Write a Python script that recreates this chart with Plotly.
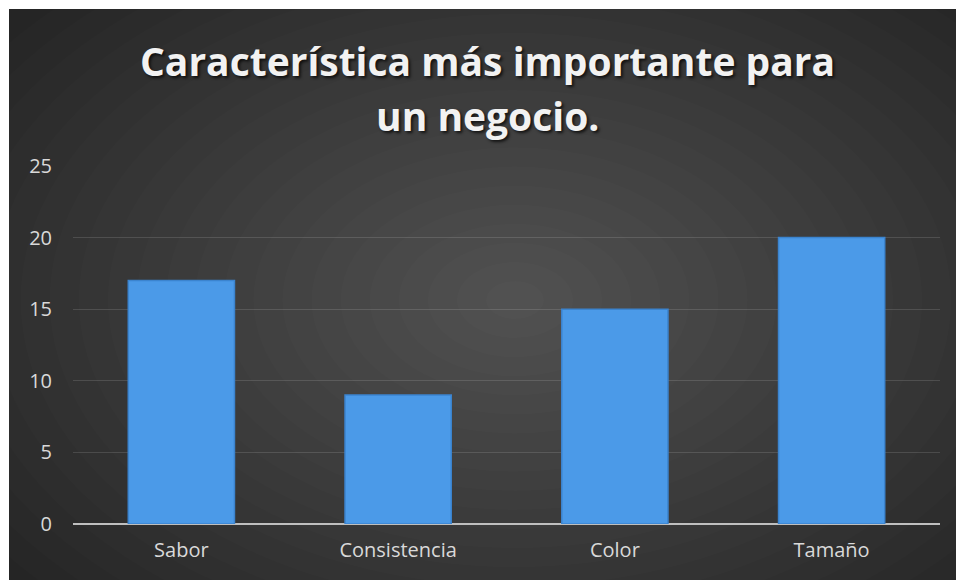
import plotly.graph_objects as go

categories = ["Sabor", "Consistencia", "Color", "Tamaño"]
values = [17, 9, 15, 20]
y_ticks = [0, 5, 10, 15, 20, 25]
title_lines = ["Característica más importante para", "un negocio."]

W, H = 956, 580
ML, MR, MT, MB = 73, 16, 166, 56
PW, PH = W - ML - MR, H - MT - MB

def px(x):
    return (x - ML) / PW

def py(y):
    return (H - MB - y) / PH

fig = go.Figure()
fig.add_trace(go.Bar(
    x=categories, y=values,
    marker=dict(color="#4b9ae8", line=dict(color="#3b84cf", width=1.5)),
    hoverinfo="x+y",
))

shapes = [dict(type="rect", xref="paper", yref="paper", layer="below",
               x0=px(9), x1=px(W + 2), y0=py(H + 2), y1=py(9),
               fillcolor="#252525", line=dict(width=0))]
cx, cy = 515, 300
n = 22
for i in range(n):
    f = 1 - i / n
    rx, ry = 640 * f, 420 * f
    shapes.append(dict(type="circle", xref="paper", yref="paper", layer="below",
                       x0=px(cx - rx), x1=px(cx + rx), y0=py(cy + ry), y1=py(cy - ry),
                       fillcolor="rgba(255,255,255,0.013)", line=dict(width=0)))

ann = []
for line, ypix in zip(title_lines, [60, 115]):
    ann.append(dict(text=line, xref="paper", yref="paper", x=px(487), y=py(ypix),
                    xanchor="center", yanchor="middle", showarrow=False,
                    font=dict(family="Open Sans", size=39, color="#f2f2f2", weight="bold",
                              shadow="2px 2px 3px rgba(0,0,0,0.7)")))

tick_font = dict(family="Open Sans", size=20, color="#d9d9d9")
fig.update_layout(
    width=W, height=H,
    margin=dict(l=ML, r=MR, t=MT, b=MB),
    paper_bgcolor="white",
    plot_bgcolor="rgba(0,0,0,0)",
    shapes=shapes,
    annotations=ann,
    bargap=0.51,
    showlegend=False,
    xaxis=dict(showgrid=False, showline=False, ticks="", ticklabelstandoff=12,
               tickfont=tick_font),
    yaxis=dict(range=[0, 25], tickvals=y_ticks, showgrid=True,
               gridcolor="rgba(255,255,255,0.13)", gridwidth=1,
               zeroline=True, zerolinecolor="#bfbfbf", zerolinewidth=2,
               ticks="", ticklabelstandoff=20,
               tickfont=tick_font),
)

fig.write_html("out.html")
